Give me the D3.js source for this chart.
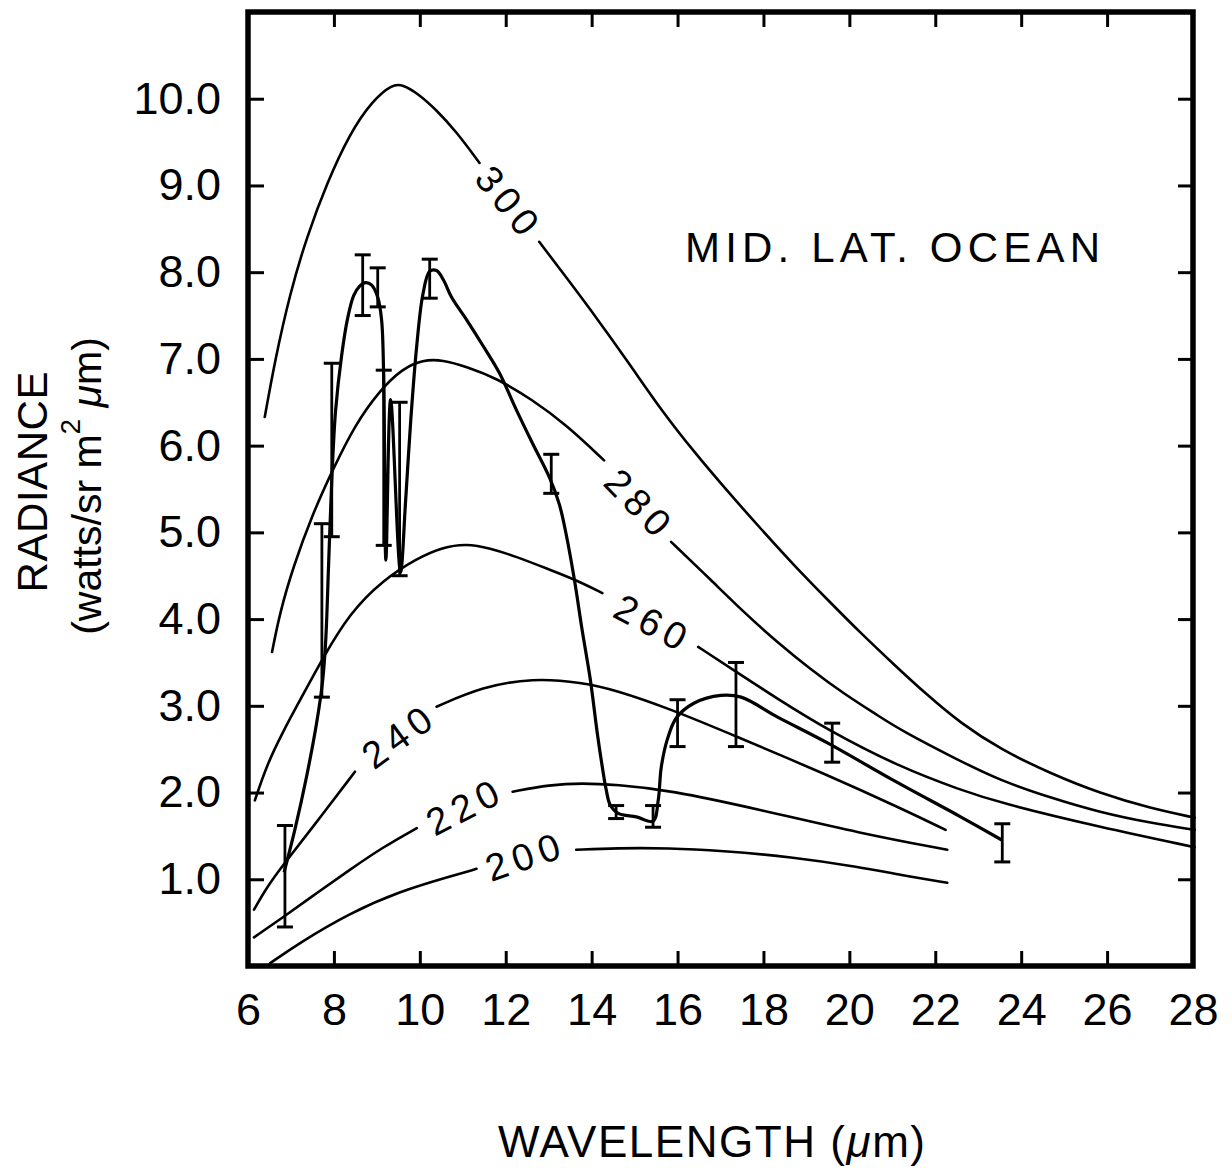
<!DOCTYPE html>
<html><head><meta charset="utf-8">
<script src="https://cdn.jsdelivr.net/npm/d3@7"></script>
<style>body{margin:0;background:#fff}svg{display:block}</style>
</head><body>
<svg id="chart" width="1232" height="1168"></svg>
<script>
// ---------- data ----------
const xTicks = [6, 8, 10, 12, 14, 16, 18, 20, 22, 24, 26, 28];
const yTicks = [1, 2, 3, 4, 5, 6, 7, 8, 9, 10];

// blackbody reference curves (wavelength µm, radiance), split where the label sits
const curve300 = [
  [[6.39,6.33],[6.63,6.99],[6.98,7.76],[7.37,8.41],[7.84,9.03],[8.37,9.60],[8.90,9.98],[9.37,10.17],[9.60,10.16],[9.93,10.07],[10.39,9.87],[10.85,9.62],[11.39,9.26]],
  [[12.78,8.35],[13.41,7.94],[14.18,7.43],[14.94,6.90],[15.62,6.41],[16.38,5.93],[17.17,5.47],[17.94,5.04],[18.71,4.62],[19.50,4.22],[20.26,3.84],[21.03,3.48],[21.82,3.12],[22.59,2.80],[23.51,2.50],[24.68,2.22],[25.84,1.99],[27.00,1.82],[28.04,1.71]]
];
const curve280 = [
  [[6.56,3.62],[6.74,4.07],[7.05,4.60],[7.51,5.22],[7.97,5.72],[8.49,6.24],[9.07,6.64],[9.60,6.89],[10.07,6.99],[10.53,6.99],[11.09,6.91],[11.78,6.78],[12.62,6.53],[13.41,6.24],[14.29,5.83]],
  [[15.85,4.89],[16.78,4.45],[17.54,4.08],[18.33,3.73],[19.10,3.42],[19.87,3.14],[20.66,2.89],[21.19,2.72],[22.59,2.36],[23.51,2.14],[24.68,1.94],[25.84,1.77],[27.00,1.65],[28.04,1.57]]
];
const curve260 = [
  [[6.16,1.91],[6.44,2.32],[6.81,2.70],[7.25,3.10],[7.74,3.55],[8.37,4.07],[9.14,4.45],[9.93,4.70],[10.53,4.83],[11.09,4.87],[11.62,4.82],[12.25,4.72],[13.02,4.57],[13.64,4.45],[14.25,4.30]],
  [[16.48,3.68],[17.31,3.41],[18.33,3.08],[19.50,2.72],[21.19,2.29],[22.59,2.03],[23.51,1.88],[25.84,1.60],[28.04,1.37]]
];
const curve240 = [
  [[6.14,0.65],[6.44,0.91],[6.81,1.16],[7.60,1.66],[8.49,2.24]],
  [[10.39,2.99],[11.46,3.22],[12.62,3.32],[13.78,3.27],[14.57,3.18],[15.80,2.97],[17.31,2.66],[19.50,2.20],[21.19,1.82],[22.24,1.57]]
];
const curve220 = [
  [[6.14,0.33],[6.81,0.56],[7.60,0.84],[8.37,1.11],[9.14,1.37],[9.93,1.59]],
  [[12.16,2.01],[13.02,2.09],[13.78,2.11],[14.57,2.09],[15.80,2.03],[17.94,1.80],[20.26,1.53],[22.28,1.34]]
];
const curve200 = [
  [[6.51,0.03],[7.21,0.27],[8.37,0.61],[9.53,0.86],[10.69,1.03],[11.32,1.12]],
  [[13.64,1.34],[14.57,1.36],[15.80,1.36],[17.01,1.33],[18.64,1.26],[20.26,1.14],[21.19,1.05],[22.28,0.96]]
];

// curve labels: text, position (wavelength, radiance), rotation
const curveLabelText  = ["300", "280", "260", "240", "220", "200"];
const curveLabelAt    = [[12.04,8.83],[15.08,5.35],[15.38,3.97],[9.46,2.64],[10.99,1.83],[12.39,1.26]];
const curveLabelAngle = [51, 46, 28, -36, -27, -19];

// measured spectrum
const measured = [
  [6.84,1.08],[7.09,1.57],[7.37,2.20],[7.60,2.81],[7.74,3.30],[7.81,3.76],[7.88,4.68],[7.95,5.60],[8.04,6.41],
  [8.18,7.04],[8.32,7.47],[8.46,7.73],[8.60,7.84],[8.74,7.88],[8.88,7.85],[9.02,7.71],[9.11,7.45],[9.16,6.76],
  [9.21,4.68],[9.32,6.53],[9.55,4.54],[9.67,5.37],[9.79,6.30],[9.93,7.16],[10.07,7.74],[10.23,8.01],[10.39,8.02],
  [10.55,7.91],[10.74,7.71],[11.09,7.45],[11.46,7.16],[11.85,6.84],[12.25,6.41],[12.62,6.03],[13.02,5.63],
  [13.25,5.32],[13.41,4.97],[13.60,4.45],[13.78,3.87],[13.97,3.30],[14.13,2.69],[14.25,2.29],[14.34,2.03],
  [14.43,1.86],[14.62,1.76],[15.04,1.72],[15.43,1.67],[15.55,1.91],[15.62,2.29],[15.76,2.61],[15.97,2.86],
  [16.38,3.03],[17.01,3.12],[17.48,3.10],[18.33,2.87],[19.50,2.57],[21.03,2.14],[22.59,1.72],[23.56,1.45]
];
// error bars: wavelength, low, high
const errorBars = [
  [6.86,0.45,1.62],[7.72,3.10,5.10],[7.95,4.95,6.95],[8.67,7.50,8.20],[9.02,7.60,8.05],[9.16,4.85,6.87],
  [9.53,4.50,6.50],[10.23,7.70,8.15],[13.06,5.45,5.90],[14.57,1.70,1.85],[15.43,1.60,1.85],[16.00,2.53,3.07],
  [17.36,2.53,3.50],[19.60,2.35,2.80],[23.56,1.20,1.64]
];

const yTitle = "RADIANCE";
const yUnits = ["(watts/sr  m", "2", " ", "\u03BC", "m)"];
const xTitle = ["WAVELENGTH  (", "\u03BC", "m)"];
const caseTitle = "MID. LAT. OCEAN";

// ---------- drawing ----------
const FONT = "'Liberation Sans', Arial, sans-serif";
const svg = d3.select("#chart");
svg.append("rect").attr("width", 1232).attr("height", 1168).attr("fill", "#fff");

const x = d3.scaleLinear().domain([6, 28]).range([248, 1193]);
const y = d3.scaleLinear().domain([0, 11]).range([966, 12]);

const smooth = d3.line().x(d => x(d[0])).y(d => y(d[1])).curve(d3.curveBasis);
const through = d3.line().x(d => x(d[0])).y(d => y(d[1])).curve(d3.curveCatmullRom.alpha(0.5));

// axes (inward ticks)
const gB = svg.append("g").attr("transform", `translate(0,${y(0)})`)
  .call(d3.axisBottom(x).tickValues(xTicks).tickSize(-15).tickPadding(27).tickFormat(d3.format("d")));
const gT = svg.append("g").attr("transform", `translate(0,${y(11)})`)
  .call(d3.axisTop(x).tickValues(xTicks).tickSize(-15).tickFormat(""));
const gL = svg.append("g").attr("transform", `translate(${x(6)},0)`)
  .call(d3.axisLeft(y).tickValues(yTicks).tickSize(-16).tickPadding(27).tickFormat(d3.format(".1f")));
const gR = svg.append("g").attr("transform", `translate(${x(28)},0)`)
  .call(d3.axisRight(y).tickValues(yTicks).tickSize(-15).tickFormat(""));
[gB, gT, gL, gR].forEach(g => {
  g.select(".domain").remove();
  g.selectAll(".tick line").attr("stroke", "#000").attr("stroke-width", 3);
  g.selectAll("text").attr("font-family", FONT).attr("font-size", 45).attr("fill", "#000");
});

// frame
svg.append("rect")
  .attr("x", x(6)).attr("y", y(11))
  .attr("width", x(28) - x(6)).attr("height", y(0) - y(11))
  .attr("fill", "none").attr("stroke", "#000").attr("stroke-width", 5.5);

// reference curves
const gCurves = svg.append("g").attr("fill", "none").attr("stroke", "#000").attr("stroke-width", 2.6)
  .attr("stroke-linecap", "round");
[curve300, curve280, curve260, curve240, curve220, curve200].forEach(c => {
  c.forEach(seg => gCurves.append("path").attr("d", smooth(seg)));
});

// curve labels
curveLabelText.forEach((t, i) => {
  svg.append("text")
    .attr("transform", `translate(${x(curveLabelAt[i][0])},${y(curveLabelAt[i][1])}) rotate(${curveLabelAngle[i]})`)
    .attr("text-anchor", "middle").attr("dy", "0.36em")
    .attr("font-family", FONT).attr("font-size", 38)
    .attr("textLength", 76).attr("lengthAdjust", "spacing")
    .text(t);
});

// measured spectrum
svg.append("path").attr("d", through(measured))
  .attr("fill", "none").attr("stroke", "#000").attr("stroke-width", 3.2).attr("stroke-linejoin", "round");

// error bars
const gE = svg.append("g").attr("stroke", "#000");
errorBars.forEach(e => {
  const cx = x(e[0]);
  gE.append("line").attr("x1", cx).attr("x2", cx).attr("y1", y(e[1])).attr("y2", y(e[2])).attr("stroke-width", 2.8);
  [e[1], e[2]].forEach(v => gE.append("line")
    .attr("x1", cx - 8).attr("x2", cx + 8).attr("y1", y(v)).attr("y2", y(v)).attr("stroke-width", 3));
});

// titles
svg.append("text").attr("x", 685).attr("y", 262)
  .attr("font-family", FONT).attr("font-size", 42)
  .attr("textLength", 415).attr("lengthAdjust", "spacing").text(caseTitle);

const xt = svg.append("text").attr("x", 498).attr("y", 1157)
  .attr("font-family", FONT).attr("font-size", 44)
  .attr("textLength", 427).attr("lengthAdjust", "spacing");
xt.append("tspan").text(xTitle[0]);
xt.append("tspan").attr("font-style", "italic").text(xTitle[1]);
xt.append("tspan").text(xTitle[2]);

svg.append("text").attr("transform", "translate(47,482) rotate(-90)")
  .attr("text-anchor", "middle").attr("font-family", FONT).attr("font-size", 42)
  .attr("textLength", 221).attr("lengthAdjust", "spacing").text(yTitle);

const yu = svg.append("text").attr("transform", "translate(101,486) rotate(-90)")
  .attr("text-anchor", "middle").attr("font-family", FONT).attr("font-size", 41);
yu.append("tspan").text(yUnits[0]);
yu.append("tspan").attr("font-size", 28).attr("dy", -21).text(yUnits[1]);
yu.append("tspan").attr("dy", 21).text(yUnits[2]);
yu.append("tspan").attr("font-style", "italic").text(yUnits[3]);
yu.append("tspan").text(yUnits[4]);
</script>
</body></html>
